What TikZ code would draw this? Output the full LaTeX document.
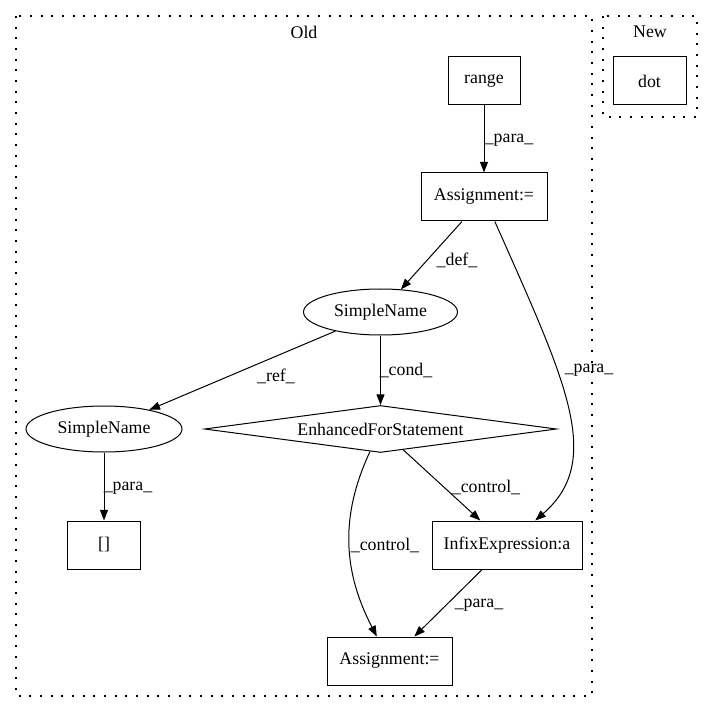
\documentclass[tikz,border=0pt]{standalone}
\usepackage{fontspec}
\setmainfont{Liberation Serif}
\usetikzlibrary{arrows.meta, shapes.geometric}

\begin{document}
\begin{tikzpicture}[x=0.75pt, y=-0.75pt,
  font=\fontsize{13.35}{16}\selectfont,
  box/.style = {draw, rectangle, line width=0.75pt, minimum height=36pt, inner sep=2pt},
  oval/.style = {draw, ellipse, line width=0.75pt, minimum height=34.5pt, inner sep=1pt},
  decision/.style = {draw, diamond, aspect=7.5, line width=0.75pt, minimum width=264pt, minimum height=35.25pt, inner sep=1pt},
  edge/.style = {-{Triangle[length=8pt, width=6pt]}, line width=0.75pt},
  lbl/.style = {inner sep=0pt},
  cluster/.style = {line width=1pt, dash pattern=on 1.5pt off 6.5pt}]
\useasboundingbox (0,0) rectangle (712,712);

% clusters
\draw[cluster] (16,16) rectangle (592,696);
\draw[cluster] (603,16) rectangle (697,117);
\node (old) at (304,32) {Old};
\node (new) at (650,32) {New};

\node[box, minimum width=54pt] (range) at (484,81) {range};
\node[box, minimum width=94.5pt] (asg1) at (484,197) {Assignment:=};
\node[oval, minimum width=115.5pt] (sn1) at (380.5,312) {SimpleName};
\node[oval, minimum width=117pt] (sn2) at (104,429) {SimpleName};
\node[decision] (efs) at (380.5,429) {EnhancedForStatement};
\node[box, minimum width=54.75pt] (arr) at (104,545) {[]};
\node[box, minimum width=112.5pt] (infix) at (507,545) {InfixExpression:a};
\node[box, minimum width=93.75pt] (asg2) at (389.5,661) {Assignment:=};
\node[box, minimum width=54.75pt] (dot) at (649.5,81) {dot};

\draw[edge] (range) -- (asg1) node[lbl] at (509,140) {\_para\_};
\draw[edge] (asg1) -- (sn1) node[lbl] at (457,260) {\_def\_};
\draw[edge] (asg1) .. controls (565,380) and (605,460) .. (infix) node[lbl] at (589,370) {\_para\_};
\draw[edge] (sn1) -- (sn2) node[lbl] at (276,376) {\_ref\_};
\draw[edge] (sn1) -- (efs) node[lbl] at (406,370) {\_cond\_};
\draw[edge] (sn2) -- (arr) node[lbl] at (128,488) {\_para\_};
\draw[edge] (efs) -- (infix) node[lbl] at (486,487) {\_control\_};
\draw[edge] (efs) .. controls (338,520) and (345,575) .. (asg2) node[lbl] at (385,545) {\_control\_};
\draw[edge] (infix) -- (asg2) node[lbl] at (479,605) {\_para\_};
\end{tikzpicture}
\end{document}
